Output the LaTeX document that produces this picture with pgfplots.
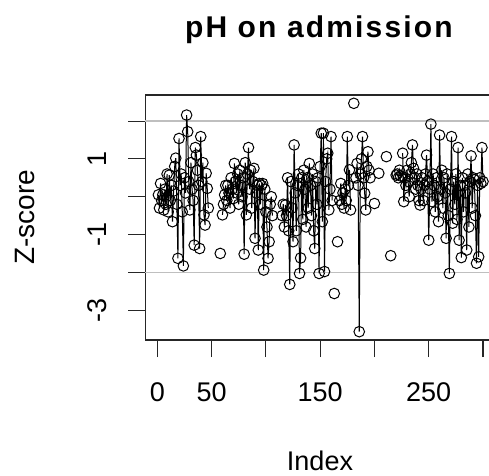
\documentclass[border=0pt]{standalone}
\usepackage{pgfplots}
\pgfplotsset{compat=1.18}
\usepackage{pgfplotstable}
\usepackage{fontspec}
\setmainfont{Liberation Sans}
\newfontfamily\titlefont[LetterSpace=7.2]{Liberation Sans}
\pgfplotstableread{
x y
1 0.05
2 -0.3
3 0.35
4 -0.1
5 0.05
6 -0.35
7 0.2
8 -0.2
9 0.6
10 -0.4
11 0.57
12 -0.1
13 0.3
14 -0.66
15 0.15
16 0.8
17 1.02
18 -0.2
19 -1.63
20 1.54
21 0.3
22 0.6
23 -0.4
24 -1.83
25 0.5
26 0.1
27 2.16
28 1.72
29 0.4
30 -0.35
31 0.9
32 0.2
33 -0.1
34 -1.28
35 1.3
36 1.1
37 0.7
38 0.3
39 -1.37
40 1.59
41 0.4
42 0.9
43 -0.48
44 -0.75
45 0.62
46 0.22
47 -0.3
48 nan
58 -1.5
59 nan
60 -0.48
61 -0.2
62 0.05
63 0.3
64 -0.1
65 0.3
66 0.1
67 -0.3
68 0.5
69 0.2
70 -0.05
71 0.88
72 0.4
73 0.1
74 0.6
75 -0.2
76 0.7
77 0.3
78 0.0
79 0.5
80 -1.52
81 0.9
82 -0.48
83 0.6
84 1.3
85 0.2
86 0.7
87 -0.3
88 0.4
89 0.75
90 -1.1
91 0.1
92 0.3
93 -1.41
94 0.35
95 -0.2
96 0.3
97 0.35
98 -1.94
99 0.2
100 -0.4
101 -0.8
102 -1.63
103 -1.19
104 -0.2
105 0.0
106 -0.5
107 nan
115 -0.5
116 -0.2
117 -0.8
118 -0.22
119 -0.5
120 0.5
121 -0.9
122 -2.32
123 0.4
124 -0.3
125 -1.19
126 1.37
127 0.1
128 -0.9
129 0.3
130 0.6
131 -2.03
132 -1.62
133 0.5
134 -0.6
135 0.7
136 0.2
137 -0.8
138 0.5
139 -0.3
140 0.88
141 0.3
142 -0.5
143 0.6
144 -0.9
145 -1.37
146 0.4
147 -0.2
148 0.5
149 -2.03
150 0.8
151 1.68
152 -0.66
153 1.68
154 -1.98
155 0.4
156 1.0
157 1.15
158 -0.35
159 0.2
160 1.59
161 -0.1
162 nan
163 -2.56
164 nan
166 -1.19
167 nan
168 -0.1
169 0.35
170 -0.2
171 0.1
172 -0.3
173 0.2
174 -0.1
175 1.59
176 0.3
177 0.71
178 -0.35
179 nan
181 2.47
182 nan
183 0.5
184 0.88
185 0.3
186 -3.57
187 0.6
188 1.0
189 1.59
190 0.5
191 0.09
192 -0.35
193 0.8
194 1.19
195 0.7
196 0.5
197 nan
200 -0.18
201 nan
204 0.62
205 nan
211 1.06
212 nan
215 -1.56
216 nan
220 0.57
221 0.6
222 0.5
223 0.7
224 0.55
225 nan
226 1.15
227 -0.13
228 0.5
229 0.3
230 0.7
231 0.4
232 0.0
233 0.6
234 0.9
235 1.37
236 0.75
237 0.5
238 0.2
239 0.6
240 0.3
241 -0.1
242 -0.22
243 0.2
244 0.5
245 -0.1
246 0.3
247 0.6
248 1.1
249 0.4
250 -1.15
251 0.2
252 1.92
253 -0.13
254 0.6
255 0.3
256 -0.4
257 0.5
258 0.0
259 -0.66
260 1.63
261 0.2
262 0.7
263 -0.3
264 0.5
265 0.1
266 -1.1
267 0.6
268 -0.5
269 -2.03
270 0.2
271 1.59
272 -0.7
273 0.4
274 -0.2
275 0.6
276 -0.6
277 1.3
278 -1.15
279 0.3
280 -1.61
281 0.5
282 -0.4
283 0.3
284 0.1
285 -1.41
286 0.6
287 -0.8
288 0.4
289 1.08
290 -0.3
291 0.5
292 0.45
293 -0.5
294 -1.76
295 0.3
296 -1.59
297 0.5
298 0.35
299 1.3
300 0.4
}\phdata
\begin{document}
\begin{tikzpicture}
\begin{axis}[
  at={(0pt,0pt)}, anchor=south west,
  scale only axis, width=350.6pt, height=245pt,
  xmin=-10.96, xmax=311.96, ymin=-3.79, ymax=2.69,
  axis line style={line width=1.1pt, black!85},
  xtick={0,50,100,150,200,250,300},
  xticklabels={0,50,,150,,250,},
  ytick={-3,-2,-1,0,1,2},
  yticklabels={-3,,-1,,1,},
  tick align=outside, tick pos=left,
  major tick length=17pt,
  every tick/.style={line width=1.1pt, black!85},
  xticklabel style={font=\fontsize{27}{27}\selectfont, anchor=base, yshift=-44pt},
  yticklabel style={font=\fontsize{27}{27}\selectfont, anchor=base, rotate=90, yshift=22pt},
  title={\titlefont\bfseries pH on admission},
  title style={font=\fontsize{30}{30}\selectfont, at={(axis description cs:0.4948,1.211)}, anchor=base},
  xlabel={Index},
  xlabel style={font=\fontsize{27}{27}\selectfont, at={(axis description cs:0.498,-0.5306)}, anchor=base},
  ylabel={Z-score},
  ylabel style={font=\fontsize{28}{28}\selectfont, at={(axis description cs:-0.316,0.5)}, anchor=base, rotate=0},
  unbounded coords=jump,
  clip=false,
]
\addplot[gray!50, line width=1.3pt, forget plot] coordinates {(-10.96,2) (311.96,2)};
\addplot[gray!50, line width=1.3pt, forget plot] coordinates {(-10.96,-2) (311.96,-2)};
\addplot[black, line width=1pt, mark=o, mark size=5.3pt, mark options={line width=1pt}] table[x=x, y=y] {\phdata};
\end{axis}
\pgfresetboundingbox
\useasboundingbox (-145.4pt,-135pt) rectangle (343.6pt,340pt);
\end{tikzpicture}
\end{document}
